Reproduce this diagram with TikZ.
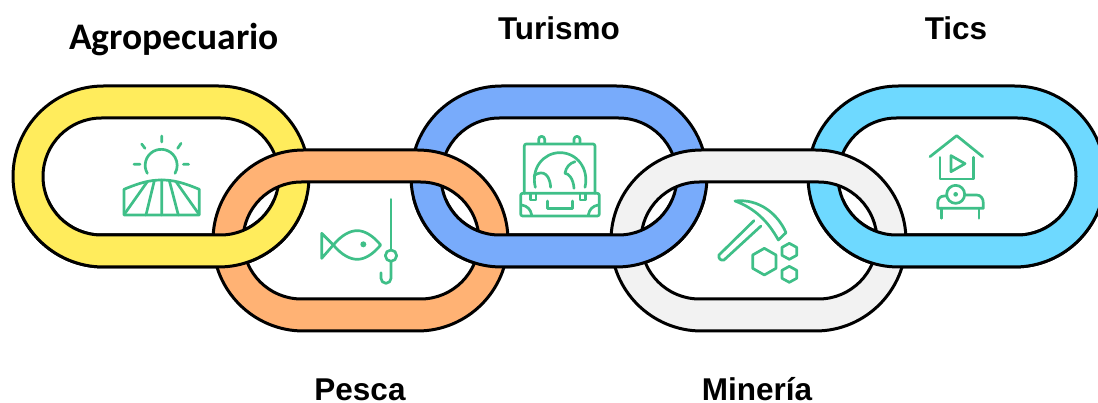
\documentclass[tikz,border=0pt]{standalone}
\usepackage{fontspec}
\setmainfont{Liberation Sans}
\newfontfamily\carlito{Carlito}
\definecolor{cYellow}{HTML}{FFEC5C}
\definecolor{cOrange}{HTML}{FFB274}
\definecolor{cBlue}{HTML}{78ABFB}
\definecolor{cGray}{HTML}{F2F2F2}
\definecolor{cCyan}{HTML}{6ED9FF}
\definecolor{cIcon}{HTML}{3FBF88}
\newcommand{\linkring}[7]{%
  % colour, outer l, r, t, b, inner l, r ; inner t/b follow from the row
  \pgfmathsetmacro{\ringit}{#4+32}\pgfmathsetmacro{\ringib}{#5-32}
  \pgfmathsetmacro{\ringro}{(#5-#4)/2-0.01}\pgfmathsetmacro{\ringri}{(\ringib-\ringit)/2-0.01}
  \path[ringline,fill=#1,even odd rule]
    {[rounded corners=\ringro pt] (#2,#4) rectangle (#3,#5)}
    {[rounded corners=\ringri pt] (#6,\ringit) rectangle (#7,\ringib)};
}
\tikzset{
  ringline/.style={draw=black,line width=3pt},
  icon/.style={draw=cIcon,line width=2.7pt,line cap=round,line join=round},
  biglabel/.style={font=\fontsize{31.5}{34}\selectfont\bfseries,text=black,inner sep=0pt,anchor=base},
  agrolabel/.style={font=\carlito\fontsize{37.5}{40}\selectfont\bfseries,text=black,inner sep=0pt,anchor=base},
}
\begin{document}
\begin{tikzpicture}[x=1pt,y=-1pt]
\useasboundingbox (0,0) rectangle (1098,403);
\clip (0,0) rectangle (1098,403);
% upper links
\linkring{cYellow}{13}{309}{86}{267}{43}{279}
\linkring{cBlue}{411}{707}{86}{267}{441}{677}
\linkring{cCyan}{808}{1105}{86}{267}{838}{1076}
% lower links
\linkring{cOrange}{213}{508}{150}{331}{243}{479}
\linkring{cGray}{611}{906}{150}{331}{641}{877}
% upper links again, over the lower ones in their bottom half
\begin{scope}
\clip (0,200) rectangle (1098,403);
\linkring{cYellow}{13}{309}{86}{267}{43}{279}
\linkring{cBlue}{411}{707}{86}{267}{441}{677}
\linkring{cCyan}{808}{1105}{86}{267}{838}{1076}
\end{scope}
% labels
\node[agrolabel] (agro) at (174,50) {Agropecuario};
\node[biglabel] (turismo) at (559,40) {Turismo};
\node[biglabel] (tics) at (956,40) {Tics};
\node[biglabel] (pesca) at (360,400) {Pesca};
\node[biglabel] (mineria) at (757,400) {Minería};
% icon: field and sun
\begin{scope}[shift={(110,130)},scale=0.3333]
\draw[icon] (112,130) arc[start angle=150,end angle=390,radius=48];
\draw[icon] (155,18)--(155,36) (95,42)--(105,55) (213,40)--(203,55) (72,103)--(90,103) (220,103)--(236,103);
\draw[icon] (42,178) .. controls (90,158) and (120,150) .. (155,150) .. controls (190,150) and (220,158) .. (268,178) -- (268,255) -- (42,255) -- cycle;
\draw[icon] (155,150)--(155,255) (133,152)--(108,255) (178,152)--(205,255) (112,155)--(45,250) (198,155)--(265,250);
\end{scope}
% icon: fish and hook
\begin{scope}[shift={(310,190)},scale=0.3333]
\draw[icon] (70,165) .. controls (95,135) and (120,122) .. (142,122) .. controls (165,122) and (190,138) .. (212,165) .. controls (190,192) and (165,208) .. (142,208) .. controls (120,208) and (95,195) .. (70,165) -- (35,205) -- (35,130) -- cycle;
\fill[cIcon] (160,163) circle[radius=9];
\draw[icon] (243,28)--(243,178);
\draw[icon] (243,197) circle[radius=17];
\draw[icon] (243,214)--(243,265) arc[start angle=0,end angle=180,radius=15] -- (213,248);
\end{scope}
% icon: suitcase with globe
\begin{scope}[shift={(510,130)},scale=0.3333]
\draw[icon,rounded corners=2pt] (43,190) -- (43,42) -- (255,42) -- (255,190);
\draw[icon,rounded corners=2pt] (32,190) rectangle (268,258);
\draw[icon] (86,40) -- (86,28) arc[start angle=180,end angle=360,radius=9] -- (104,40);
\draw[icon] (192,40) -- (192,28) arc[start angle=180,end angle=360,radius=9] -- (210,40);
\draw[icon] (76,172) .. controls (62,115) and (100,68) .. (150,68) .. controls (200,68) and (238,115) .. (225,172);
\draw[icon] (72,138) .. controls (85,125) and (118,118) .. (122,172);
\draw[icon] (195,95) .. controls (178,100) and (168,112) .. (165,130) .. controls (175,130) and (190,145) .. (192,175);
\draw[icon] (62,192) -- (62,210) -- (78,210) -- (78,192);
\draw[icon] (210,192) -- (210,210) -- (226,210) -- (226,192);
\draw[icon] (112,213) -- (112,235) -- (188,235) -- (188,213);
\draw[icon] (35,225) .. controls (52,228) and (62,238) .. (65,255);
\draw[icon] (265,225) .. controls (248,228) and (238,238) .. (235,255);
\end{scope}
% icon: pick and stones
\begin{scope}[shift={(710,190)},scale=0.3333]
\draw[icon] (132,92) -- (27,195) .. controls (24,205) and (32,213) .. (42,210) -- (153,108);
\draw[icon] (75,33) .. controls (150,25) and (205,75) .. (228,128) -- (205,150) .. controls (175,95) and (135,55) .. (75,33) -- cycle;
\draw[icon] (163,175) -- (198,195) -- (198,235) -- (163,255) -- (128,235) -- (128,195) -- cycle;
\draw[icon] (238,160) -- (260,172) -- (260,196) -- (238,208) -- (216,196) -- (216,172) -- cycle;
\draw[icon] (238,229) -- (260,241) -- (260,265) -- (238,277) -- (216,265) -- (216,241) -- cycle;
\end{scope}
% icon: house with play button and projector
\begin{scope}[shift={(915,125)},scale=0.3333]
\draw[icon] (45,95) -- (125,32) -- (203,95);
\draw[icon] (75,97) -- (75,162) -- (175,162) -- (175,97);
\draw[icon] (108,92) -- (108,140) -- (150,116) -- cycle;
\draw[icon] (122,208) circle[radius=27];
\fill[cIcon] (122,208) circle[radius=7];
\draw[icon] (95,213) -- (88,213) .. controls (75,213) and (68,222) .. (68,235) -- (68,250) -- (205,250) -- (205,235) .. controls (205,220) and (197,210) .. (185,210) -- (150,210);
\draw[icon] (80,250) -- (80,280) (192,250) -- (192,280);
\end{scope}
\end{tikzpicture}
\end{document}
